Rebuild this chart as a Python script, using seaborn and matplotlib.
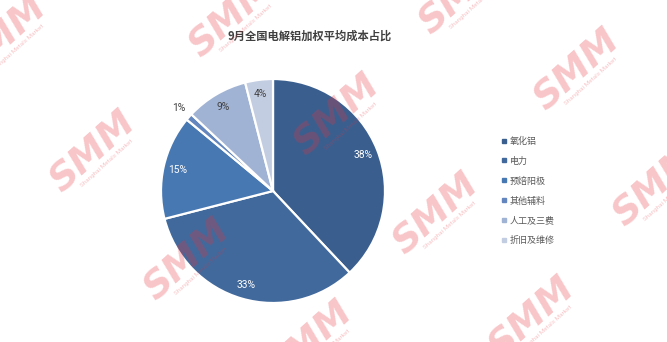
import numpy as np
import matplotlib
matplotlib.use("Agg")
import matplotlib.pyplot as plt
from matplotlib.lines import Line2D
import seaborn as sns

# Cost breakdown of electrolytic aluminium, September (national weighted average)
title = "9月全国电解铝加权平均成本占比"
categories = ["氧化铝", "电力", "预焙阳极", "其他辅料", "人工及三费", "折旧及维修"]
shares = [38, 33, 15, 1, 9, 4]
colors = ["#3A5F8F", "#41699C", "#4878B2", "#6286BD", "#A1B3D4", "#C3CDE2"]
label_colors = ["white", "white", "white", "#404040", "#404040", "#404040"]

sns.set_theme(style="white")
plt.rcParams["font.family"] = ["Noto Sans CJK SC", "DejaVu Sans"]

W, H = 667, 342
fig = plt.figure(figsize=(W / 100, H / 100), dpi=100)
fig.patch.set_facecolor("white")

# pie axes: centre (273, 191) px, radius 112 px
cx, cy, r = 273, 191, 112
ax = fig.add_axes([(cx - r) / W, (H - cy - r) / H, 2 * r / W, 2 * r / H])
wedges, _ = ax.pie(
    shares,
    colors=colors,
    startangle=90,
    counterclock=False,
    wedgeprops=dict(edgecolor="white", linewidth=1.6),
)
ax.set_xlim(-1, 1)
ax.set_ylim(-1, 1)
ax.set_aspect("equal")
ax.axis("off")

# percentage labels
for w, v, lc in zip(wedges, shares, label_colors):
    ang = np.deg2rad((w.theta1 + w.theta2) / 2)
    dist = 1.12 if v < 3 else 0.87
    ax.text(dist * np.cos(ang), dist * np.sin(ang), f"{v}%",
            ha="center", va="center", fontsize=7.4, color=lc,
            family=["Roboto", "DejaVu Sans"], clip_on=False)

# title
fig.text(310 / W, 1 - 36 / H, title, ha="center", va="center",
         fontsize=8.1, fontweight="bold", color="#404040")

# legend
handles = [Line2D([], [], marker="s", linestyle="", markersize=2.2,
                  markerfacecolor=c, markeredgecolor=c) for c in colors]
fig.legend(handles, categories, loc="upper left",
           bbox_to_anchor=(497 / W, 1 - 132 / H), frameon=False,
           fontsize=6.5, labelcolor="#595959", handlelength=0.5,
           handletextpad=0.45, labelspacing=1.2, borderpad=0)

# SMM watermarks
marks = [(4, 37), (93, 152), (232, 17), (337, 115), (187, 260),
         (436, 214), (577, 70), (656, 186), (532, 318), (462, -6), (310, 342)]
rot = 42
perp = np.array([np.sin(np.deg2rad(rot)), -np.cos(np.deg2rad(rot))])
along = np.array([np.cos(np.deg2rad(rot)), np.sin(np.deg2rad(rot))])
for mx, my in marks:
    p = np.array([mx, H - my], dtype=float)
    fig.text(p[0] / W, p[1] / H, "SMM", rotation=rot, rotation_mode="anchor",
             ha="center", va="center", fontsize=27, fontweight="bold",
             fontstyle="italic",
             family=["Liberation Sans Narrow", "DejaVu Sans"],
             color="#E8303A", alpha=0.28, zorder=10)
    q = p + perp * 18 + along * 3
    fig.text(q[0] / W, q[1] / H, "Shanghai Metals Market", rotation=rot,
             rotation_mode="anchor", ha="center", va="center", fontsize=4.6,
             family=["Roboto", "DejaVu Sans"], color="#E8303A", alpha=0.28,
             zorder=10)

fig.savefig("out.png", dpi=100, facecolor="white")
